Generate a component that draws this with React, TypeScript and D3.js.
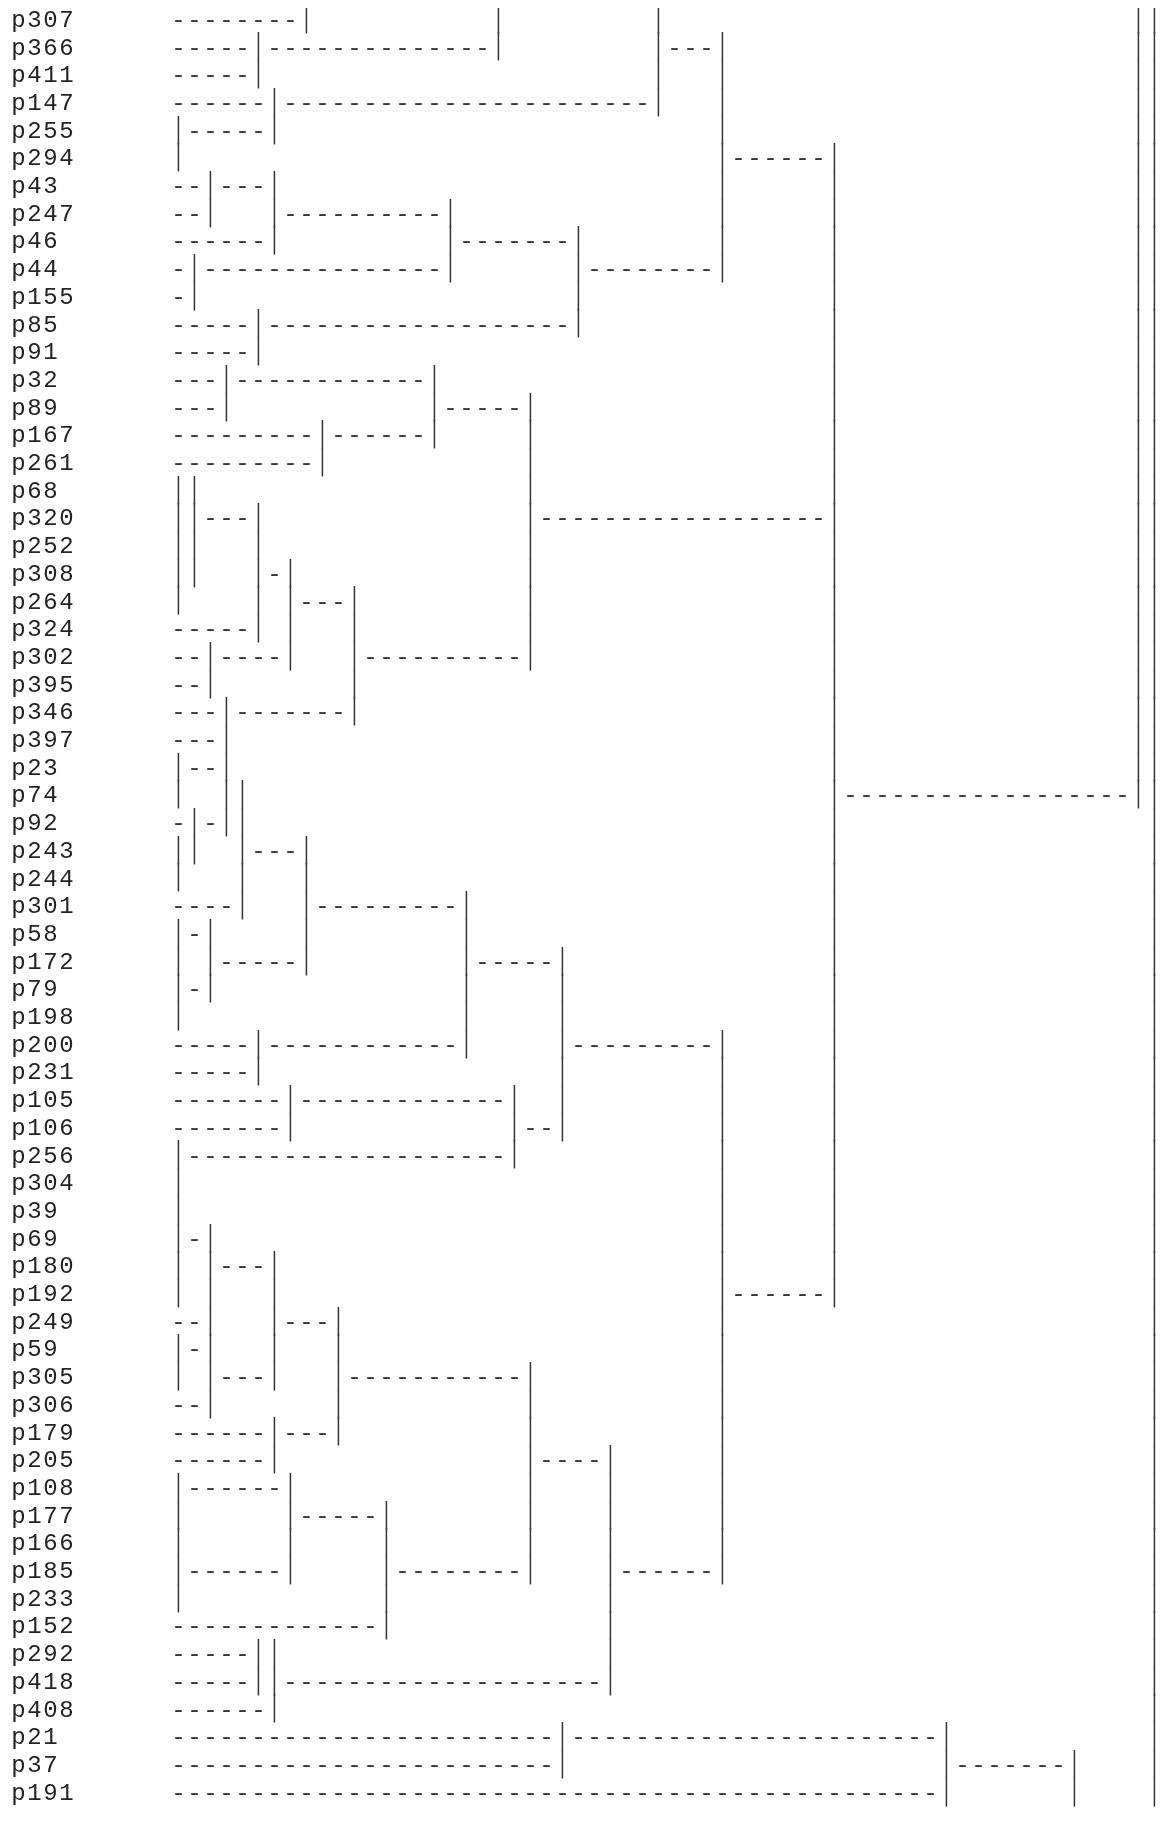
import React from 'react';
import * as d3 from 'd3';

// Leaf labels, top to bottom
const leafLabels = [
  'p307','p366','p411','p147','p255','p294','p43','p247','p46','p44','p155','p85','p91',
  'p32','p89','p167','p261','p68','p320','p252','p308','p264','p324','p302','p395','p346',
  'p397','p23','p74','p92','p243','p244','p301','p58','p172','p79','p198','p200','p231',
  'p105','p106','p256','p304','p39','p69','p180','p192','p249','p59','p305','p306','p179',
  'p205','p108','p177','p166','p185','p233','p152','p292','p418','p408','p21','p37','p191'
];

// Dendrogram text art per row: "-a:b" = run of dashes in tree columns a..b, "|c" = bar in tree column c
const treeRowSpecs = [
  '-0:7 |8 |20 |30 |60 |61',
  '-0:4 |5 -6:19 |20 |30 -31:33 |34 |60 |61',
  '-0:4 |5 |30 |34 |60 |61',
  '-0:5 |6 -7:29 |30 |34 |60 |61',
  '|0 -1:5 |6 |34 |60 |61',
  '|0 |34 -35:40 |41 |60 |61',
  '-0:1 |2 -3:5 |6 |34 |41 |60 |61',
  '-0:1 |2 |6 -7:16 |17 |34 |41 |60 |61',
  '-0:5 |6 |17 -18:24 |25 |34 |41 |60 |61',
  '-0:0 |1 -2:16 |17 |25 -26:33 |34 |41 |60 |61',
  '-0:0 |1 |25 |41 |60 |61',
  '-0:4 |5 -6:24 |25 |41 |60 |61',
  '-0:4 |5 |41 |60 |61',
  '-0:2 |3 -4:15 |16 |41 |60 |61',
  '-0:2 |3 |16 -17:21 |22 |41 |60 |61',
  '-0:8 |9 -10:15 |16 |22 |41 |60 |61',
  '-0:8 |9 |22 |41 |60 |61',
  '|0 |1 |22 |41 |60 |61',
  '|0 |1 -2:4 |5 |22 -23:40 |41 |60 |61',
  '|0 |1 |5 |22 |41 |60 |61',
  '|0 |1 |5 -6:6 |7 |22 |41 |60 |61',
  '|0 |5 |7 -8:10 |11 |22 |41 |60 |61',
  '-0:4 |5 |7 |11 |22 |41 |60 |61',
  '-0:1 |2 -3:6 |7 |11 -12:21 |22 |41 |60 |61',
  '-0:1 |2 |11 |41 |60 |61',
  '-0:2 |3 -4:10 |11 |41 |60 |61',
  '-0:2 |3 |41 |60 |61',
  '|0 -1:2 |3 |41 |60 |61',
  '|0 |3 |4 |41 -42:59 |60 |61',
  '-0:0 |1 -2:2 |3 |4 |41 |61',
  '|0 |1 |4 -5:7 |8 |41 |61',
  '|0 |4 |8 |41 |61',
  '-0:3 |4 |8 -9:17 |18 |41 |61',
  '|0 -1:1 |2 |8 |18 |41 |61',
  '|0 |2 -3:7 |8 |18 -19:23 |24 |41 |61',
  '|0 -1:1 |2 |18 |24 |41 |61',
  '|0 |18 |24 |41 |61',
  '-0:4 |5 -6:17 |18 |24 -25:33 |34 |41 |61',
  '-0:4 |5 |24 |34 |41 |61',
  '-0:6 |7 -8:20 |21 |24 |34 |41 |61',
  '-0:6 |7 |21 -22:23 |24 |34 |41 |61',
  '|0 -1:20 |21 |34 |41 |61',
  '|0 |34 |41 |61',
  '|0 |34 |41 |61',
  '|0 -1:1 |2 |34 |41 |61',
  '|0 |2 -3:5 |6 |34 |41 |61',
  '|0 |2 |6 |34 -35:40 |41 |61',
  '-0:1 |2 |6 -7:9 |10 |34 |61',
  '|0 -1:1 |2 |6 |10 |34 |61',
  '|0 |2 -3:5 |6 |10 -11:21 |22 |34 |61',
  '-0:1 |2 |10 |22 |34 |61',
  '-0:5 |6 -7:9 |10 |22 |34 |61',
  '-0:5 |6 |22 -23:26 |27 |34 |61',
  '|0 -1:6 |7 |22 |27 |34 |61',
  '|0 |7 -8:12 |13 |22 |27 |34 |61',
  '|0 |7 |13 |22 |27 |34 |61',
  '|0 -1:6 |7 |13 -14:21 |22 |27 -28:33 |34 |61',
  '|0 |13 |27 |61',
  '-0:12 |13 |27 |61',
  '-0:4 |5 |6 |27 |61',
  '-0:4 |5 |6 -7:26 |27 |61',
  '-0:5 |6 |61',
  '-0:23 |24 -25:47 |48 |61',
  '-0:23 |24 |48 -49:55 |56 |61',
  '-0:47 |48 |56 |61'
];

const LABEL_COLS = 10;
const TOTAL_COLS = 72;

type Row = { dashes: [number, number][]; bars: number[] };

function parseSpec(spec: string): Row {
  const dashes: [number, number][] = [];
  const bars: number[] = [];
  spec.split(/\s+/).forEach((tok) => {
    if (tok.startsWith('-')) {
      const [a, b] = tok.slice(1).split(':').map(Number);
      dashes.push([a, b]);
    } else if (tok.startsWith('|')) {
      bars.push(Number(tok.slice(1)));
    }
  });
  return { dashes, bars };
}

export default function App() {
  const W = 1166;
  const H = 1834;
  const charW = 16;
  const rowH = 27.7;
  const x0 = 10.5;
  const x = d3.scaleLinear().domain([0, TOTAL_COLS]).range([x0, x0 + TOTAL_COLS * charW]);
  const y = d3
    .scaleLinear()
    .domain([0, leafLabels.length - 1])
    .range([18.7, 18.7 + (leafLabels.length - 1) * rowH]);

  const fs = 24;
  const rows = treeRowSpecs.map(parseSpec);
  const font = "'Liberation Mono', 'Courier New', monospace";

  // vertical bar glyph (DejaVu Sans Mono '|' spans about -0.236em..0.760em)
  const barFs = 18;
  const barH = 0.996 * barFs;
  const barStretch = (rowH / barH) * 1.04;
  const barMid = 0.262 * barFs;

  const charXs = (startCol: number, n: number) =>
    d3.range(n).map((i) => x(startCol + i) + (charW - fs * 0.6) / 2).join(' ');

  return (
    <svg
      width={W}
      height={H}
      style={{ display: 'block', margin: '-8px 0 0 -8px' }}
    >
      <rect width={W} height={H} fill="#fff" />
      <g opacity={0.99}>
        {leafLabels.map((lab, r) => (
          <text
            key={'l' + r}
            x={charXs(0, lab.length)}
            y={y(r) + 0.34 * fs}
            fontFamily={font}
            fontSize={fs}
            fill="#222"
          >
            {lab}
          </text>
        ))}
        {rows.map((row, r) => (
          <g key={'r' + r}>
            {row.dashes.map(([a, b], i) => (
              <text
                key={'d' + i}
                x={charXs(LABEL_COLS + a, b - a + 1)}
                y={y(r) + 0.34 * fs}
                fontFamily={font}
                fontSize={fs}
                fill="#333"
              >
                {'-'.repeat(b - a + 1)}
              </text>
            ))}
            {row.bars.map((c, i) => (
              <text
                key={'b' + i}
                transform={`translate(${x(LABEL_COLS + c + 0.5)},${y(r) + 0.5}) scale(1,${barStretch})`}
                x={0}
                y={barMid}
                textAnchor="middle"
                fontFamily="'DejaVu Sans Mono', monospace"
                fontSize={barFs}
                fill="#333"
              >
                |
              </text>
            ))}
          </g>
        ))}
      </g>
    </svg>
  );
}
